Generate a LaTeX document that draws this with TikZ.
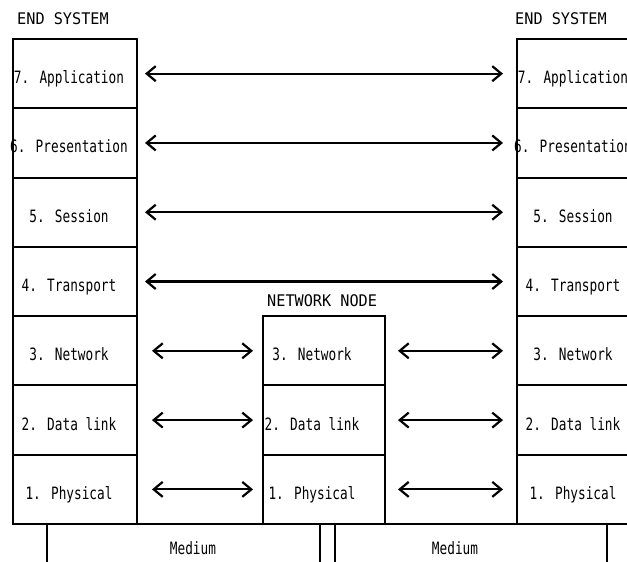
\documentclass[tikz,border=0pt]{standalone}
\usepackage{fontspec}
\usetikzlibrary{arrows.meta}
\newfontfamily\labfont[FakeStretch=0.75]{DejaVu Sans Mono}
\newfontfamily\headfont[FakeStretch=0.95]{DejaVu Sans Mono}
\begin{document}
\begin{tikzpicture}[x=1pt,y=-1pt,
  layerbox/.style={draw, line width=2pt, minimum width=124pt, minimum height=69.29pt, inner sep=0pt, outer sep=0pt},
  nodebox/.style={layerbox, minimum width=122pt},
  mediumbox/.style={draw, line width=2pt, minimum height=70pt, inner sep=0pt, outer sep=0pt},
  lab/.style={font=\labfont\fontsize{17}{20}\selectfont, inner sep=0pt, anchor=base},
  head/.style={font=\headfont\fontsize{16}{19}\selectfont, inner sep=0pt, anchor=west},
  peer/.style={line width=2.2pt, {Straight Barb[length=9pt,width=15pt]}-{Straight Barb[length=9pt,width=15pt]}}
]
\useasboundingbox (0,0) rectangle (627,562);
\clip (0,0) rectangle (627,562);

% headings
\node[head] (hL) at (17,19) {END SYSTEM};
\node[head] (hR) at (515,19) {END SYSTEM};
\node[head] (hN) at (267,301) {NETWORK NODE};

% the two end-system stacks
\foreach \k/\t in {7/7. Application, 6/6. Presentation, 5/5. Session, 4/4. Transport, 3/3. Network, 2/2. Data link, 1/1. Physical} {
  \pgfmathsetmacro\yc{39+(7.5-\k)*69.29}
  \node[layerbox] (L\k) at (75,\yc) {};
  \node[layerbox] (R\k) at (579,\yc) {};
  \node[lab] (tL\k) at ([xshift=-6pt,yshift=-10pt]L\k.center) {\t};
  \node[lab] (tR\k) at ([xshift=-6pt,yshift=-10pt]R\k.center) {\t};
}

% the intermediate network node
\foreach \k/\t in {3/3. Network, 2/2. Data link, 1/1. Physical} {
  \pgfmathsetmacro\yc{39+(7.5-\k)*69.29}
  \node[nodebox] (N\k) at (324,\yc) {};
  \node[lab] (tN\k) at ([xshift=-12pt,yshift=-10pt]N\k.center) {\t};
}

% transmission media below the stacks
\node[mediumbox, minimum width=273pt] (M1) at (183.5,559) {};
\node[mediumbox, minimum width=272pt] (M2) at (471,559) {};
\node[lab] (tM1) at (193,554) {Medium};
\node[lab] (tM2) at (455,554) {Medium};

% end-to-end peer protocols
\foreach \k in {7,6,5,4} {
  \draw[peer, shorten <=8pt, shorten >=14pt] (L\k) -- (R\k);
}

% hop-by-hop peer protocols
\foreach \k in {3,2,1} {
  \draw[peer, shorten <=15pt, shorten >=10pt] (L\k) -- (N\k);
  \draw[peer, shorten <=13pt, shorten >=14pt] (N\k) -- (R\k);
}
\end{tikzpicture}
\end{document}
